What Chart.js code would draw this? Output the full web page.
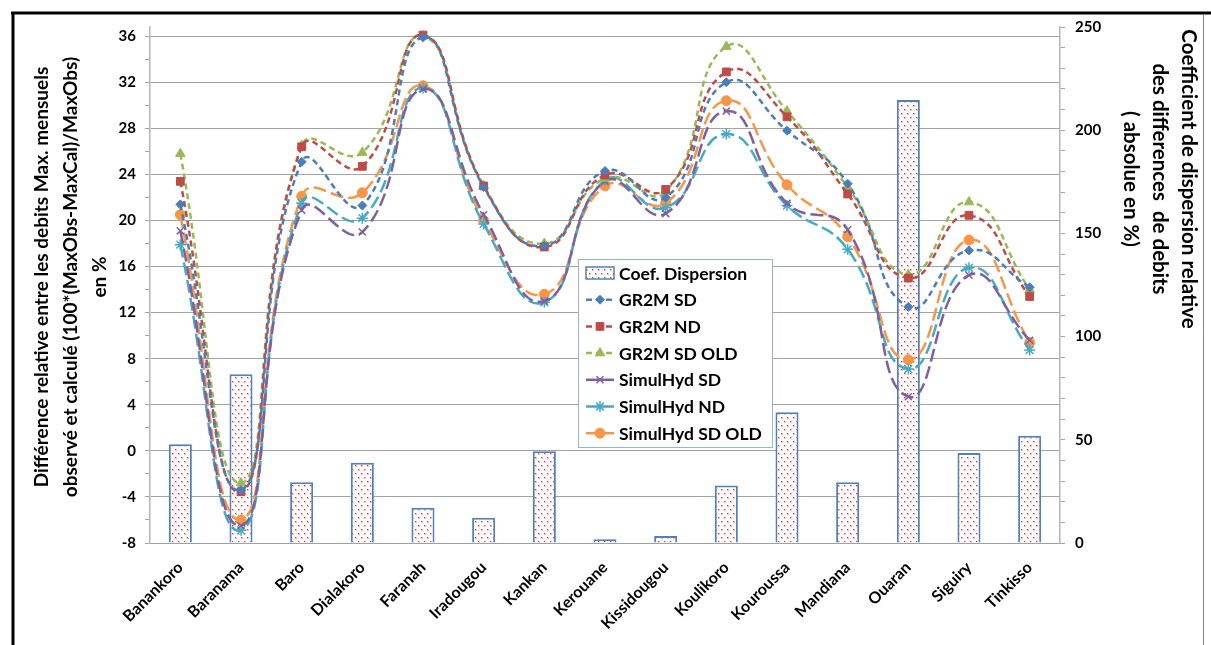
<!DOCTYPE html>
<html><head><meta charset="utf-8">
<script src="https://cdn.jsdelivr.net/npm/chart.js@4.4.0/dist/chart.umd.min.js"></script>
<style>html,body{margin:0;padding:0;background:#fff}#wrap{width:1211px;height:645px}</style>
</head><body><div id="wrap"><canvas id="c" width="1211" height="645"></canvas></div>
<script>
const categories = ['Banankoro','Baranama','Baro','Dialakoro','Faranah','Iradougou','Kankan','Kerouane','Kissidougou','Koulikoro','Kouroussa','Mandiana','Ouaran','Siguiry','Tinkisso'];
const coefDispersion = [47.9, 81.8, 29.4, 38.9, 17.1, 12.2, 44.5, 1.8, 3.4, 27.9, 63.3, 29.4, 214.6, 43.6, 52.0];
const gr2mSD      = [21.4, -3.4, 25.1, 21.3, 35.9, 22.9, 17.8, 24.3, 22.0, 32.0, 27.8, 23.2, 12.5, 17.4, 14.2];
const gr2mND      = [23.4, -3.55, 26.4, 24.7, 36.1, 23.0, 17.7, 23.95, 22.7, 32.9, 29.0, 22.3, 15.0, 20.45, 13.4];
const gr2mSDOld   = [25.8, -2.8, 26.5, 25.9, 36.0, 23.0, 18.0, 23.65, 22.5, 35.1, 29.5, 22.9, 15.3, 21.6, 14.0];
const simSD       = [19.1, -6.5, 20.9, 19.0, 31.4, 20.5, 13.0, 23.4, 20.6, 29.5, 21.5, 19.2, 4.7, 15.25, 9.6];
const simND       = [17.9, -6.9, 21.5, 20.2, 31.5, 19.7, 12.9, 23.5, 21.1, 27.5, 21.3, 17.5, 7.1, 15.9, 8.75];
const simSDOld    = [20.5, -6.0, 22.1, 22.4, 31.7, 20.0, 13.6, 23.0, 21.5, 30.4, 23.1, 18.6, 7.9, 18.3, 9.4];
const leftAxisMin = -8, leftAxisMax = 36.8, leftLastTick = 36, leftMajorStep = 4, leftMinorStep = 2;
const rightAxisMin = 0, rightAxisMax = 250, rightMajorStep = 50, rightMinorStep = 10;
const leftTitle = ['Différence relative entre les debits Max. mensuels','observé et calculé (100*(MaxObs-MaxCal)/MaxObs)','en %'];
const rightTitle = ['Coefficient de dispersion relative','des differences  de debits','( absolue en %)'];

const FONT = 'Lato, "Open Sans", "DejaVu Sans", sans-serif';
const canvas = document.getElementById('c');
const ctx0 = canvas.getContext('2d');
function makePattern(){
  const p = document.createElement('canvas'); p.width = 6; p.height = 8;
  const g = p.getContext('2d');
  g.fillStyle = '#ffffff'; g.fillRect(0,0,6,8);
  g.fillStyle = 'rgb(255,185,185)';
  g.fillRect(1,1,2,2); g.fillRect(4,5,2,2);
  g.fillStyle = 'rgb(240,40,40)';
  g.fillRect(1,1,1,1); g.fillRect(4,5,1,1);
  return ctx0.createPattern(p,'repeat');
}
const dotPattern = makePattern();

function makeTicks(min, max, step){
  const out = [];
  for (let v = min; v <= max + 1e-9; v += step) out.push({value: Math.round(v*1000)/1000});
  return out;
}

function lineDs(label, data, color, dash, style, radius){
  return {type:'line', label, data, yAxisID:'y', borderColor:color, backgroundColor:color,
    borderWidth:2.5, borderDash:dash, tension:0.5, fill:false, pointStyle:style,
    pointRadius:radius, pointBorderColor:color, pointBackgroundColor:color,
    pointBorderWidth:(style==='crossRot'||style==='star')?1.5:1, order:1};
}

const framePlugin = {
  id:'frame',
  beforeDraw(chart){
    const c = chart.ctx; c.save(); c.fillStyle = '#fff'; c.fillRect(0,0,chart.width,chart.height); c.restore();
  },
  afterDraw(chart){
    const c = chart.ctx; c.save();
    c.strokeStyle = '#000'; c.lineWidth = 3;
    c.beginPath(); c.moveTo(11,13); c.lineTo(1211,13); c.stroke();
    c.beginPath(); c.moveTo(13,12); c.lineTo(13,645); c.stroke();
    c.strokeStyle = '#808080'; c.lineWidth = 1;
    c.beginPath(); c.moveTo(1203.5,14); c.lineTo(1203.5,645); c.stroke();
    // axis titles
    c.fillStyle = '#000'; c.textAlign = 'center'; c.textBaseline = 'middle';
    c.font = 'bold 19px ' + FONT;
    const lx = [42, 71, 100];
    leftTitle.forEach((t,i)=>{ c.save(); c.translate(lx[i], 277); c.rotate(-Math.PI/2); c.fillText(t,0,0); c.restore(); });
    c.font = 'bold 20.5px ' + FONT;
    const rx = [1189, 1160, 1131];
    rightTitle.forEach((t,i)=>{ c.save(); c.translate(rx[i], 179); c.rotate(Math.PI/2); c.fillText(t,0,0); c.restore(); });
    // legend
    const x0 = 578, y0 = 259, w = 194, h = 188;
    c.fillStyle = '#fff'; c.fillRect(x0,y0,w,h);
    c.strokeStyle = '#95B3D7'; c.lineWidth = 1; c.strokeRect(x0+0.5,y0+0.5,w,h);
    chart.data.datasets.forEach((ds,i)=>{
      const cy = 273 + i*26.7;
      if (ds.type === 'bar'){
        c.fillStyle = dotPattern; c.fillRect(586, cy-6, 28, 12);
        c.strokeStyle = ds.borderColor; c.lineWidth = 1.5; c.strokeRect(586, cy-6, 28, 12);
      } else {
        c.save();
        c.strokeStyle = ds.borderColor; c.lineWidth = 2.5;
        c.setLineDash(ds.label.indexOf('GR2M')===0 ? [6,4] : []);
        c.beginPath(); c.moveTo(586, cy); c.lineTo(614, cy); c.stroke();
        c.setLineDash([]);
        c.fillStyle = ds.pointBackgroundColor; c.strokeStyle = ds.pointBorderColor; c.lineWidth = ds.pointBorderWidth;
        Chart.helpers.drawPoint(c, {pointStyle: ds.pointStyle, rotation:0, radius: ds.pointRadius, borderWidth: ds.pointBorderWidth}, 600, cy);
        c.restore();
      }
      c.fillStyle = '#000'; c.font = 'bold 17.5px ' + FONT; c.textAlign = 'left'; c.textBaseline = 'middle';
      c.fillText(ds.label, 619, cy+1);
    });
    c.restore();
  }
};

const tickFont = {family: FONT, weight:'bold', size:15};
new Chart(canvas, {
  data: {
    labels: categories,
    datasets: [
      {type:'bar', label:'Coef. Dispersion', data: coefDispersion, yAxisID:'y1', backgroundColor: dotPattern,
       borderColor:'#4F81BD', borderWidth:2, barPercentage:0.38, categoryPercentage:1, order:2},
      lineDs('GR2M SD', gr2mSD, '#4A7EBB', [6,4], 'rectRot', 4.5),
      lineDs('GR2M ND', gr2mND, '#BE4B48', [6,4], 'rect', 5.5),
      lineDs('GR2M SD OLD', gr2mSDOld, '#98B954', [6,4], 'triangle', 5.5),
      lineDs('SimulHyd SD', simSD, '#7D60A0', [13,5], 'crossRot', 5),
      lineDs('SimulHyd ND', simND, '#46AAC5', [13,5], 'star', 5.5),
      lineDs('SimulHyd SD OLD', simSDOld, '#F79646', [13,5], 'circle', 5)
    ]
  },
  options: {
    responsive:false, devicePixelRatio:1, animation:false,
    layout:{padding:{top:27, left:0, right:0, bottom:0}},
    plugins:{legend:{display:false}, tooltip:{enabled:false}},
    scales:{
      x:{type:'category', offset:true, grid:{display:false},
         border:{display:true, color:'#a0a0a0', width:1},
         ticks:{autoSkip:false, maxRotation:45, minRotation:45, font:{family:FONT, weight:'bold', size:16}, color:'#000', padding:7},
         afterFit(s){ s.height = 102; }},
      y:{position:'left', min:leftAxisMin, max:leftAxisMax,
         ticks:{autoSkip:false, color:'#000', font:tickFont, padding:9,
                callback:(v)=> (v % leftMajorStep === 0) ? v : ''},
         grid:{color:(c)=> (c.tick && c.tick.value % leftMajorStep === 0 && c.tick.value > leftAxisMin) ? '#a3a3a3' : 'rgba(0,0,0,0)',
               tickColor:'#a3a3a3', tickLength:5, lineWidth:1},
         border:{display:true, color:'#b5b5b5', width:1.5},
         afterBuildTicks(s){ s.ticks = makeTicks(leftAxisMin, leftLastTick, leftMinorStep); },
         afterFit(s){ s.width = 150; }},
      y1:{position:'right', min:rightAxisMin, max:rightAxisMax,
         ticks:{autoSkip:false, color:'#000', font:tickFont, padding:10,
                callback:(v)=> (v % rightMajorStep === 0) ? v : ''},
         grid:{drawOnChartArea:false, tickColor:'#a3a3a3', tickLength:5},
         border:{display:true, color:'#b5b5b5', width:1.5},
         afterBuildTicks(s){ s.ticks = makeTicks(rightAxisMin, rightAxisMax, rightMinorStep); },
         afterFit(s){ s.width = 151; }}
    }
  },
  plugins:[framePlugin]
});
</script></body></html>
